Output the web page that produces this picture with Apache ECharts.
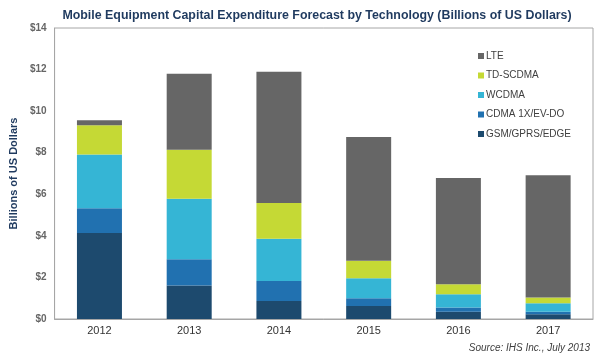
<!DOCTYPE html>
<html>
<head>
<meta charset="utf-8">
<script src="https://cdn.jsdelivr.net/npm/echarts@6/dist/echarts.min.js"></script>
<style>html,body{margin:0;padding:0;background:#fff;}#c{width:600px;height:359px;}</style>
</head>
<body>
<div id="c"></div>
<script>
const categories = ['2012', '2013', '2014', '2015', '2016', '2017'];
const gsm   = [4.14, 1.61, 0.87, 0.63, 0.35, 0.23];
const cdma  = [1.19, 1.27, 0.96, 0.37, 0.20, 0.12];
const wcdma = [2.59, 2.90, 2.03, 0.96, 0.64, 0.41];
const tdscdma = [1.40, 2.36, 1.72, 0.84, 0.48, 0.27];
const lte   = [0.24, 3.66, 6.32, 5.96, 5.11, 5.88];
const yTicks = [0, 2, 4, 6, 8, 10, 12, 14];

const chart = echarts.init(document.getElementById('c'), null, {renderer: 'canvas'});
const font = 'Liberation Sans, Arial, sans-serif';
function s(name, data, color) {
  return {name: name, type: 'bar', stack: 'total', data: data, barWidth: 45,
    itemStyle: {color: color}, emphasis: {disabled: true}};
}
chart.setOption({
  animation: false,
  title: {text: 'Mobile Equipment Capital Expenditure Forecast by Technology (Billions of US Dollars)',
    left: 312, textAlign: 'center', top: 5,
    textStyle: {fontFamily: font, fontSize: 12.4, fontWeight: 'bold', color: '#1f3a5f'}},
  grid: {left: 50, right: 7, top: 28, bottom: 40, show: true, borderColor: '#a6a6a6', borderWidth: 1},
  legend: {orient: 'vertical', left: 473, top: 46, itemWidth: 6, itemHeight: 6, icon: 'rect', itemGap: 9.5,
    data: ['LTE', 'TD-SCDMA', 'WCDMA', 'CDMA 1X/EV-DO', 'GSM/GPRS/EDGE'],
    textStyle: {fontFamily: font, fontSize: 10, color: '#404040', padding: [0, 0, 0, -3]}},
  xAxis: {type: 'category', data: categories,
    axisLine: {lineStyle: {color: '#a6a6a6'}}, axisTick: {show: false},
    axisLabel: {fontFamily: font, fontSize: 11, color: '#333', margin: 6}},
  yAxis: {type: 'value', min: yTicks[0], max: yTicks[yTicks.length - 1], interval: 2,
    name: 'Billions of US Dollars', nameLocation: 'middle', nameRotate: 90, nameGap: 34,
    nameTextStyle: {fontFamily: font, fontSize: 11, fontWeight: 'bold', color: '#1f3a5f'},
    axisLine: {show: true, lineStyle: {color: '#a6a6a6'}}, axisTick: {show: false}, splitLine: {show: false},
    axisLabel: {fontFamily: font, fontSize: 10, fontWeight: 'bold', color: '#666', margin: 8, formatter: v => '$' + v}},
  graphic: [{type: 'text', right: 10, top: 343,
    style: {text: 'Source: IHS Inc., July 2013', font: 'italic 10px ' + font, fill: '#404040'}}],
  series: [
    s('GSM/GPRS/EDGE', gsm, '#1d4a6e'),
    s('CDMA 1X/EV-DO', cdma, '#2171b0'),
    s('WCDMA', wcdma, '#35b5d5'),
    s('TD-SCDMA', tdscdma, '#c5d935'),
    s('LTE', lte, '#666666')
  ]
});
</script>
</body>
</html>
